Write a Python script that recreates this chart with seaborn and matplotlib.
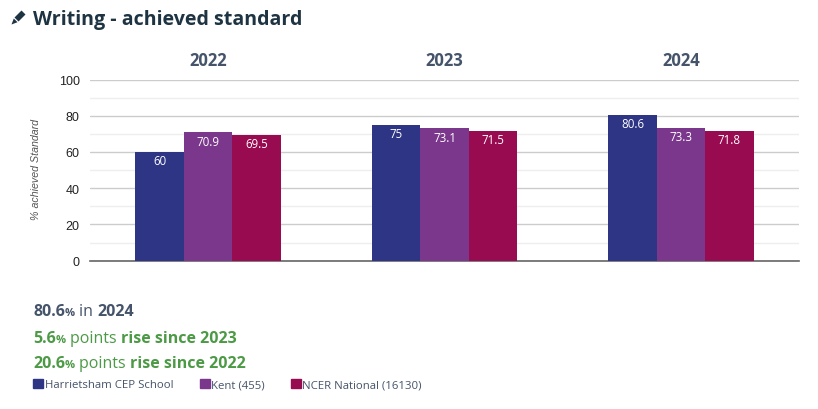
import matplotlib
matplotlib.use("Agg")
import matplotlib.pyplot as plt
import pandas as pd
import seaborn as sns

years = ["2022", "2023", "2024"]
school = [60, 75, 80.6]
kent = [70.9, 73.1, 73.3]
national = [69.5, 71.5, 71.8]
series_names = ["Harrietsham CEP School", "Kent (455)", "NCER National (16130)"]
colors = ["#2f3585", "#7a378b", "#990b50"]
value_labels = [["60", "75", "80.6"], ["70.9", "73.1", "73.3"], ["69.5", "71.5", "71.8"]]

W, H = 818, 410
DARK = "#45546a"
GREEN = "#4c9a45"
TITLE = "#1f3442"

sns.set_style("white")
plt.rcParams["font.family"] = ["Open Sans", "DejaVu Sans"]

df = pd.DataFrame({
    "year": years * 3,
    "value": school + kent + national,
    "series": [s for s in series_names for _ in years],
})

fig = plt.figure(figsize=(W / 100, H / 100), dpi=100)
ax = fig.add_axes([90 / W, 1 - 261.6 / H, 709 / W, 181 / H])

sns.barplot(data=df, x="year", y="value", hue="series", hue_order=series_names,
            palette=colors, saturation=1, width=0.615, gap=0, ax=ax, legend=False,
            zorder=3, linewidth=0, edgecolor="none")

ax.set_ylim(0, 100)
ax.set_xlim(-0.5, 2.5)
ax.set_yticks(range(0, 101, 20))
ax.set_yticks(range(10, 100, 20), minor=True)
ax.grid(True, axis="y", which="major", color="#cccccc", lw=1, zorder=0)
ax.grid(True, axis="y", which="minor", color="#eeeeee", lw=1, zorder=0)
ax.set_axisbelow(True)
sns.despine(ax=ax, left=True, top=True, right=True)
ax.spines["bottom"].set_color("#666666")
ax.spines["bottom"].set_linewidth(1.2)

ax.tick_params(axis="y", which="both", length=0, pad=7.5)
ax.tick_params(axis="x", length=0, labelbottom=False)
for t in ax.get_yticklabels():
    t.set_fontfamily("Liberation Sans")
    t.set_fontsize(9)
    t.set_color("#222222")
ax.set_xlabel("")
ax.set_ylabel("")

# year headers above the plot
for i, y in enumerate(years):
    ax.text(i, 1.11, y, transform=ax.get_xaxis_transform(), ha="center", va="center",
            fontsize=12, fontweight="bold", color=DARK)

for cont, labs in zip(ax.containers, value_labels):
    ax.bar_label(cont, labels=labs, label_type="edge", padding=-11, color="white", fontsize=8.3)

fig.text(36 / W, 1 - 170 / H, "% achieved Standard", rotation=90, ha="center", va="center",
         family="Liberation Sans", style="italic", fontsize=7.7, color="#555555")


def rich_line(x, y, parts, color):
    # parts are (text, size, weight), drawn one after another on a shared baseline
    rend = fig.canvas.get_renderer()
    for s, size, weight in parts:
        t = fig.text(x / W, 1 - y / H, s, fontsize=size, fontweight=weight, color=color,
                     ha="left", va="baseline")
        x = x + t.get_window_extent(rend).width + (4 if s.endswith("%") else 0)


def px(points):
    return [(a / W, 1 - b / H) for a, b in points]


# pencil icon: body and tip
fig.add_artist(plt.Polygon(px([(14.5, 18.5), (21.5, 11.5), (25.5, 15.5), (18.5, 22.5)]),
                           closed=True, color=TITLE, lw=0, transform=fig.transFigure))
fig.add_artist(plt.Polygon(px([(13.8, 19.5), (17.5, 23.2), (11.5, 25.5)]),
                           closed=True, color=TITLE, lw=0, transform=fig.transFigure))
fig.text(33 / W, 1 - 25 / H, "Writing - achieved standard", fontsize=14.1, fontweight="bold",
         color=TITLE, ha="left", va="baseline")

rich_line(33, 316, [("80.6", 11.5, "bold"), ("%", 8, "bold"), ("in ", 11.5, "normal"), ("2024", 11.5, "bold")], DARK)
rich_line(33, 343, [("5.6", 11.5, "bold"), ("%", 8, "bold"), ("points ", 11.5, "normal"), ("rise since 2023", 11.5, "bold")], GREEN)
rich_line(33, 368, [("20.6", 11.5, "bold"), ("%", 8, "bold"), ("points ", 11.5, "normal"), ("rise since 2022", 11.5, "bold")], GREEN)

# legend
handles = [plt.Rectangle((0, 0), 1, 1, color=c) for c in colors]
fig.legend(handles, series_names, loc="center left", bbox_to_anchor=(30 / W, 1 - 385.5 / H), ncol=3,
           frameon=False, fontsize=8.2, labelcolor=DARK, handlelength=0.88, handleheight=0.88,
           handletextpad=0.12, columnspacing=2.3, borderpad=0.3, borderaxespad=0)

fig.savefig("out.png", dpi=100)
